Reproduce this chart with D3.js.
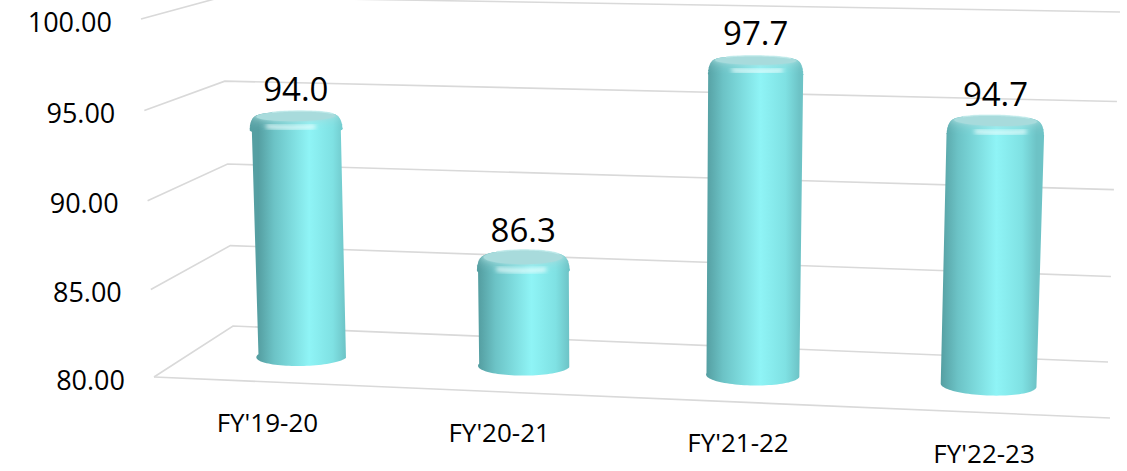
<!DOCTYPE html>
<html lang="en">
<head>
<meta charset="utf-8" />
<title>FY cylinder chart</title>
<script src="https://cdn.jsdelivr.net/npm/d3@7"></script>
<style>
body { margin: 0; background: white; }
svg text { font-family: "Open Sans", sans-serif; fill: #000; }
</style>
</head>
<body>
<script>
var categories = ["FY'19-20", "FY'20-21", "FY'21-22", "FY'22-23"];
var values = [94.0, 86.3, 97.7, 94.7];
var yTicks = [80, 85, 90, 95, 100];
var yTickLabels = ["80.00", "85.00", "90.00", "95.00", "100.00"];

var w = 1127, h = 471;

// screen corners of the 3D plot box: back wall (z=1) and front plane (z=0)
var box = {
  back:  { lb: [233, 326], rb: [1108, 362], lt: [222, -3], rt: [1120, 12] },
  front: { lb: [154, 377], rb: [1110, 418], lt: [141, 19], rt: [1124, 37] }
};
var xPersp = 0.942, yPersp = 0.97;

var svg = d3.select("body").append("svg")
  .attr("width", w).attr("height", h);

var xScale = d3.scaleBand().domain(categories).range([0, 1]);
var yScale = d3.scaleLinear().domain([80, 100]).range([0, 1]);

function warp(t, c) { return c * t / ((c - 1) * t + 1); }
function lerp(a, b, t) { return [a[0] + (b[0] - a[0]) * t, a[1] + (b[1] - a[1]) * t]; }
function face(f, u, t) { return lerp(lerp(f.lb, f.rb, u), lerp(f.lt, f.rt, u), t); }
// x in [0,1] along categories, v data value, z depth (0 front, 1 back)
function proj(x, v, z) {
  var u = warp(x, xPersp), t = warp(yScale(v), yPersp);
  return lerp(face(box.front, u, t), face(box.back, u, t), z);
}

// gridlines: side wall + back wall
var line = d3.line();
svg.append("g").attr("id", "grid")
  .selectAll("path")
  .data(yTicks)
  .enter().append("path")
  .attr("d", function(v) { return line([proj(0, v, 0), proj(0, v, 1), proj(1, v, 1)]); })
  .attr("fill", "none").attr("stroke", "#d9d9d9").attr("stroke-width", 1.6);
svg.select("#grid").append("path")
  .attr("d", line([proj(0, 80, 0), proj(1, 80, 0)]))
  .attr("fill", "none").attr("stroke", "#d9d9d9").attr("stroke-width", 1.6);

var defs = svg.append("defs");
defs.append("filter").attr("id", "soft")
  .attr("x", "-30%").attr("y", "-200%").attr("width", "160%").attr("height", "500%")
  .append("feGaussianBlur").attr("stdDeviation", 2);

var rx = 0.05, rz = 0.19, zc = 0.5;
var bevel = 0.75, shrink = 0.15, nSlices = 14;
var bodyStops = [[0, "#559fa2"], [0.18, "#6cc3c6"], [0.58, "#8ff4f6"], [0.85, "#7fe1e3"], [1, "#6dc3c6"]];
var capColor = "#a8dbdc";

function arc(xc, v, rho, a0, a1) {
  var pts = [];
  for (var i = 0; i <= 48; i++) {
    var th = a0 + (a1 - a0) * i / 48;
    pts.push(proj(xc + rx * rho * Math.cos(th), v, zc + rz * rho * Math.sin(th)));
  }
  return pts;
}

var bars = svg.append("g").attr("id", "bars");
values.forEach(function(val, i) {
  var xc = xScale(categories[i]) + xScale.bandwidth() / 2;
  var g = bars.append("g");
  var topBody = val - bevel;
  var left = proj(xc - rx, 80, zc), right = proj(xc + rx, 80, zc);

  function grad(id, mix) {
    var gr = defs.append("linearGradient").attr("id", id)
      .attr("gradientUnits", "userSpaceOnUse")
      .attr("x1", left[0]).attr("x2", right[0]).attr("y1", 0).attr("y2", 0);
    bodyStops.forEach(function(s) {
      gr.append("stop").attr("offset", s[0])
        .attr("stop-color", d3.interpolateRgb(s[1], capColor)(mix));
    });
    return "url(#" + id + ")";
  }

  // body: back half of upper ring + front half of base ring
  var upper = arc(xc, topBody, 1, 0, Math.PI);
  var lower = arc(xc, 80, 1, Math.PI, 2 * Math.PI);
  g.append("path")
    .attr("d", line(upper.concat(lower)) + "Z")
    .attr("fill", grad("body" + i, 0));

  // rounded cap built from stacked slices
  for (var k = 0; k <= nSlices; k++) {
    var phi = k / nSlices * Math.PI / 2;
    var v = val - bevel * (1 - Math.sin(phi));
    var rho = 1 - shrink * (1 - Math.cos(phi));
    var mix = Math.pow(k / nSlices, 2);
    g.append("path")
      .attr("d", line(arc(xc, v, rho, 0, 2 * Math.PI)) + "Z")
      .attr("fill", k === nSlices ? capColor : grad("cap" + i + "_" + k, mix * 0.75));
  }
  // back rim light
  g.append("path")
    .attr("d", line(arc(xc, val, 1 - shrink, 0.2 * Math.PI, 0.8 * Math.PI)))
    .attr("fill", "none").attr("stroke", "#c9eeee").attr("stroke-width", 1.5)
    .attr("opacity", 0.7);
  // specular highlight on the front of the bevel
  var hphi = 0.4 * Math.PI / 2;
  var hv = val - bevel * (1 - Math.sin(hphi));
  var hrho = 1 - shrink * (1 - Math.cos(hphi));
  g.append("path")
    .attr("d", line(arc(xc, hv, hrho, 1.38 * Math.PI, 1.72 * Math.PI)))
    .attr("fill", "none").attr("stroke", "#f4ffff").attr("stroke-width", 4)
    .attr("opacity", 0.85)
    .attr("stroke-linecap", "round").attr("filter", "url(#soft)");
});

// value labels
svg.append("g").attr("id", "value_labels")
  .selectAll("text")
  .data(values)
  .enter().append("text")
  .text(function(d) { return d.toFixed(1); })
  .attr("x", function(d, i) { return proj(xScale(categories[i]) + xScale.bandwidth() / 2, d, zc)[0]; })
  .attr("y", function(d, i) { return proj(xScale(categories[i]) + xScale.bandwidth() / 2, d, zc)[1] - 15; })
  .attr("text-anchor", "middle")
  .attr("font-size", "33px");

// y axis labels along the front left edge
svg.append("g").attr("id", "y_labels")
  .selectAll("text")
  .data(yTicks)
  .enter().append("text")
  .text(function(d, i) { return yTickLabels[i]; })
  .attr("x", function(d) { return proj(0, d, 0)[0] - 29; })
  .attr("y", function(d) { return proj(0, d, 0)[1] + 2; })
  .attr("dominant-baseline", "central")
  .attr("text-anchor", "end")
  .attr("font-size", "27px");

// category labels under the front floor edge
svg.append("g").attr("id", "x_labels")
  .selectAll("text")
  .data(categories)
  .enter().append("text")
  .text(function(d) { return d; })
  .attr("x", function(d) { return proj(xScale(d) + xScale.bandwidth() / 2, 80, 0)[0]; })
  .attr("y", function(d) { return proj(xScale(d) + xScale.bandwidth() / 2, 80, 0)[1] + 50; })
  .attr("text-anchor", "middle")
  .attr("font-size", "26px");
</script>
</body>
</html>
